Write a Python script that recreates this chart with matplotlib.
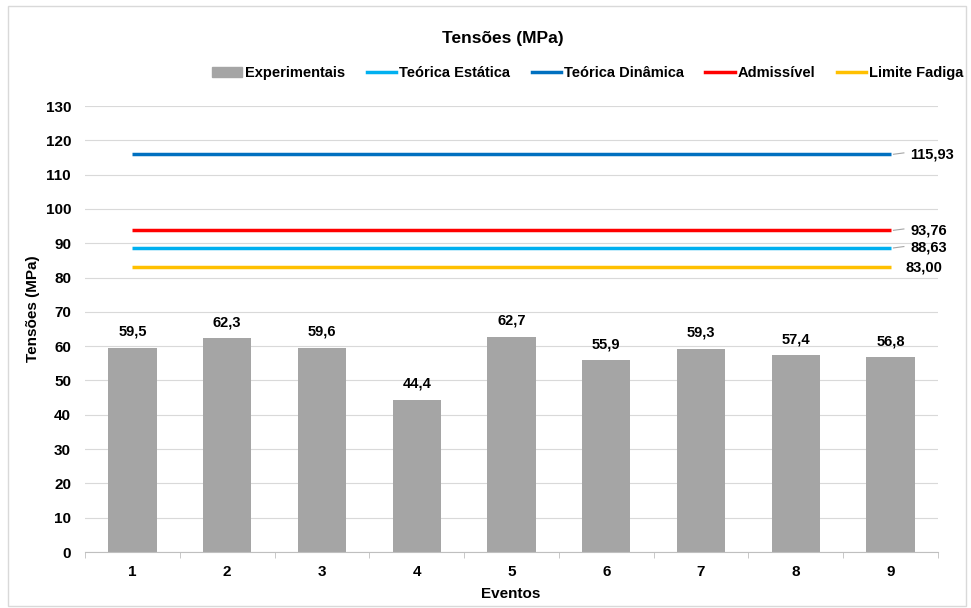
"""Bar chart of measured stresses per event against theoretical and limit levels."""

import matplotlib

matplotlib.use("Agg")
import matplotlib.pyplot as plt
from matplotlib.lines import Line2D
from matplotlib.patches import Patch, Rectangle

plt.rcParams["font.family"] = ["Liberation Sans", "DejaVu Sans"]
plt.rcParams["font.weight"] = "bold"

events = ["1", "2", "3", "4", "5", "6", "7", "8", "9"]
experimentais = [59.5, 62.3, 59.6, 44.4, 62.7, 55.9, 59.3, 57.4, 56.8]

level_names = ["Teórica Estática", "Teórica Dinâmica", "Admissível", "Limite Fadiga"]
level_values = [88.63, 115.93, 93.76, 83.00]
level_colors = ["#00B0F0", "#0070C0", "#FF0000", "#FFC000"]
bar_color = "#A5A5A5"


def fmt(value: float, decimals: int) -> str:
    return f"{value:.{decimals}f}".replace(".", ",")


W, H = 971, 608
fig = plt.figure(figsize=(W / 100, H / 100), dpi=100)
ax = fig.add_axes([85 / W, 1 - 552 / H, 853 / W, 446 / H])

positions = list(range(1, len(events) + 1))
ax.bar(positions, experimentais, width=0.51, color=bar_color, zorder=2)
for x, v in zip(positions, experimentais):
    ax.text(x, v + 2.6, fmt(v, 1), ha="center", va="bottom", fontsize=10.5, fontweight="bold")

# reference levels run from the first to the last category, labels sit past the end
for value, color in zip(level_values, level_colors):
    ax.plot([positions[0], positions[-1]], [value, value], color=color, linewidth=2.5, zorder=3,
            solid_capstyle="butt")
    if value == 83.00:
        ax.text(9.16, value, fmt(value, 2), ha="left", va="center", fontsize=10.5, fontweight="bold")
    else:
        ax.plot([9.03, 9.14], [value, value + 0.4], color="#A6A6A6", linewidth=0.8)
        ax.text(9.21, value, fmt(value, 2), ha="left", va="center", fontsize=10.5, fontweight="bold",
                clip_on=False)

ax.set_xlim(0.5, 9.5)
ax.set_ylim(0, 130)
ax.set_yticks(range(0, 131, 10))
ax.set_xticks(positions)
ax.set_xticklabels(events)
ax.set_xticks([p + 0.5 for p in range(0, 10)], minor=True)
ax.grid(axis="y", color="#D9D9D9", linewidth=0.8, zorder=0)
ax.set_axisbelow(True)
for side in ["top", "right", "left"]:
    ax.spines[side].set_visible(False)
ax.spines["bottom"].set_color("#BFBFBF")
ax.tick_params(axis="y", length=0, pad=10, labelsize=11)
ax.tick_params(axis="x", which="major", length=0, pad=9, labelsize=11)
ax.tick_params(axis="x", which="minor", length=4, color="#BFBFBF")
for label in ax.get_xticklabels() + ax.get_yticklabels():
    label.set_fontweight("bold")

fig.text(33 / W, 1 - 309 / H, "Tensões (MPa)", rotation=90, ha="center", va="center",
         fontsize=11, fontweight="bold")
fig.text(511 / W, 1 - 594 / H, "Eventos", ha="center", va="center", fontsize=11, fontweight="bold")
fig.text(503 / W, 1 - 38 / H, "Tensões (MPa)", ha="center", va="center", fontsize=12.5, fontweight="bold")

handles = [Patch(color=bar_color)] + [Line2D([], [], color=c, linewidth=2.5) for c in level_colors]
fig.legend(
    handles,
    ["Experimentais"] + level_names,
    loc="center",
    bbox_to_anchor=(588 / W, 1 - 73 / H),
    ncol=5,
    frameon=False,
    handlelength=2.0,
    handletextpad=0.2,
    columnspacing=1.5,
    prop={"size": 10.5, "weight": "bold"},
)

fig.patches.append(Rectangle((8 / W, 2 / H), 958 / W, 600 / H, transform=fig.transFigure,
                             fill=False, edgecolor="#D9D9D9", linewidth=1))

fig.savefig("out.png", dpi=100)
